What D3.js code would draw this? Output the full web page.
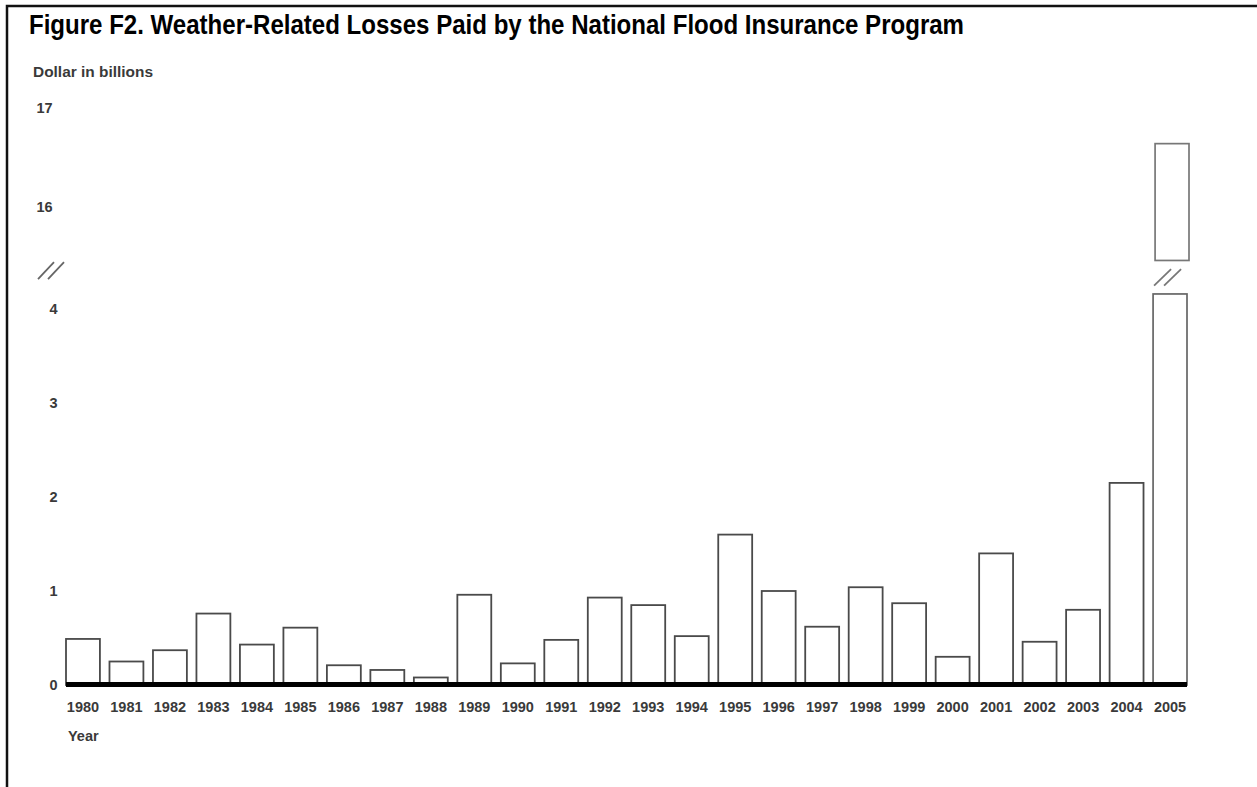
<!DOCTYPE html>
<html>
<head>
<meta charset="utf-8">
<script src="https://cdn.jsdelivr.net/npm/d3@7"></script>
<style>
  html, body { margin: 0; padding: 0; background: #fff; }
  svg { display: block; }
</style>
</head>
<body>
<svg id="chart" width="1257" height="787"></svg>
<script>
// ---- data ----
const years = ["1980","1981","1982","1983","1984","1985","1986","1987","1988","1989",
               "1990","1991","1992","1993","1994","1995","1996","1997","1998","1999",
               "2000","2001","2002","2003","2004","2005"];
const losses = [0.49, 0.25, 0.37, 0.76, 0.43, 0.61, 0.21, 0.16, 0.08, 0.96,
                0.23, 0.48, 0.93, 0.85, 0.52, 1.60, 1.00, 0.62, 1.04, 0.87,
                0.30, 1.40, 0.46, 0.80, 2.15, 16.64];
const lowerTicks = [0, 1, 2, 3, 4];
const upperTicks = [16, 17];
const breakLow = 4.16;   // top of lower panel (axis break)
const breakHigh = 15.46; // bottom of upper panel (axis break)

const title = "Figure F2. Weather-Related Losses Paid by the National Flood Insurance Program";
const yTitle = "Dollar in billions";
const xTitle = "Year";

// ---- drawing ----
const svg = d3.select("#chart");
const labelColor = "#3a3a3a";
const barStroke = "#4a4a4a";

// frame
svg.append("rect").attr("x", 7).attr("y", 6).attr("width", 1400).attr("height", 1000)
  .attr("fill", "none").attr("stroke", "#111").attr("stroke-width", 2.5);

// title
svg.append("text").attr("x", 29).attr("y", 34)
  .attr("font-family", "'Liberation Sans Narrow', 'Arial Narrow', 'Liberation Sans', Arial, sans-serif")
  .attr("font-weight", "bold").attr("font-size", 27)
  .attr("textLength", 935).attr("lengthAdjust", "spacingAndGlyphs")
  .attr("fill", "#000").text(title);

svg.append("text").attr("x", 33).attr("y", 77)
  .attr("font-family", "'Liberation Sans', Arial, sans-serif")
  .attr("font-weight", "bold").attr("font-size", 14.5)
  .attr("textLength", 120).attr("lengthAdjust", "spacingAndGlyphs")
  .attr("fill", labelColor).text(yTitle);

// scales
const x = d3.scaleBand().domain(years).range([66, 1187]).paddingInner(0.22).paddingOuter(0);
const yLow = d3.scaleLinear().domain([0, 4]).range([685, 309]);
const yHigh = d3.scaleLinear().domain([16, 17]).range([207, 108]);

const font = "'Liberation Sans', Arial, sans-serif";

// y tick labels (lower)
svg.append("g").selectAll("text").data(lowerTicks).join("text")
  .attr("x", 53.5).attr("y", d => yLow(d)).attr("dy", "0.35em")
  .attr("text-anchor", "middle").attr("font-family", font).attr("font-weight", "bold")
  .attr("font-size", 14.5).attr("fill", labelColor).text(d => d);

// y tick labels (upper)
svg.append("g").selectAll("text").data(upperTicks).join("text")
  .attr("x", 44.5).attr("y", d => yHigh(d)).attr("dy", "0.35em")
  .attr("text-anchor", "middle").attr("font-family", font).attr("font-weight", "bold")
  .attr("font-size", 14.5).attr("fill", labelColor).text(d => d);

// axis break mark
const axisBreakY = (yLow(breakLow) + yHigh(breakHigh)) / 2 - 7;
[0, 10].forEach(off => {
  svg.append("line")
    .attr("x1", 38 + off).attr("y1", axisBreakY + 9)
    .attr("x2", 54 + off).attr("y2", axisBreakY - 8)
    .attr("stroke", "#666").attr("stroke-width", 1.8);
});

// bars
const data = years.map((yr, i) => ({ year: yr, value: losses[i] }));
const bars = svg.append("g");
data.forEach(d => {
  const x0 = x(d.year), w = x.bandwidth();
  if (d.value <= breakLow) {
    bars.append("rect").attr("x", x0).attr("y", yLow(d.value))
      .attr("width", w).attr("height", yLow(0) - yLow(d.value))
      .attr("fill", "#fff").attr("stroke", barStroke).attr("stroke-width", 1.8);
  } else {
    // lower segment
    bars.append("rect").attr("x", x0).attr("y", yLow(breakLow))
      .attr("width", w).attr("height", yLow(0) - yLow(breakLow))
      .attr("fill", "#fff").attr("stroke", "#666").attr("stroke-width", 1.7);
    // upper segment
    bars.append("rect").attr("x", x0 + 2).attr("y", yHigh(d.value))
      .attr("width", w).attr("height", yHigh(breakHigh) - yHigh(d.value))
      .attr("fill", "#fff").attr("stroke", "#777").attr("stroke-width", 1.7);
    // break mark in bar
    const by = (yLow(breakLow) + yHigh(breakHigh)) / 2;
    [0, 10].forEach(off => {
      svg.append("line")
        .attr("x1", x0 + 1 + off).attr("y1", by + 8.5)
        .attr("x2", x0 + 18 + off).attr("y2", by - 8)
        .attr("stroke", "#777").attr("stroke-width", 1.8);
    });
  }
});

// thick baseline
svg.append("line").attr("x1", 66).attr("x2", 1187)
  .attr("y1", yLow(0) - 0.5).attr("y2", yLow(0) - 0.5)
  .attr("stroke", "#000").attr("stroke-width", 5);

// x tick labels
svg.append("g").selectAll("text").data(years).join("text")
  .attr("x", d => x(d) + x.bandwidth() / 2).attr("y", 707).attr("dy", "0.35em")
  .attr("text-anchor", "middle").attr("font-family", font).attr("font-weight", "bold")
  .attr("font-size", 14.5).attr("fill", labelColor).text(d => d);

svg.append("text").attr("x", 68).attr("y", 736).attr("dy", "0.35em")
  .attr("font-family", font).attr("font-weight", "bold").attr("font-size", 14.5)
  .attr("fill", labelColor).text(xTitle);
</script>
</body>
</html>
